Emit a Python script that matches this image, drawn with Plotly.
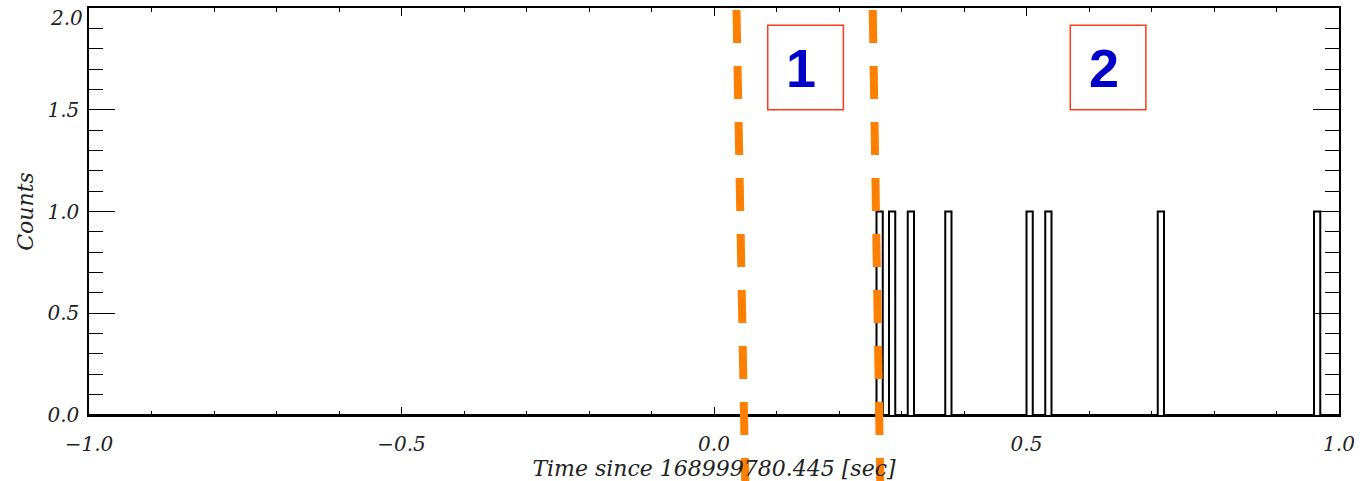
import plotly.graph_objects as go

# Histogram of photon arrival times (bin width 0.01 s)
bin_width = 0.01
bin_left = [0.26, 0.28, 0.31, 0.37, 0.50, 0.53, 0.71, 0.96]
bin_counts = [1, 1, 1, 1, 1, 1, 1, 1]

x_range = [-1.0, 1.0]
y_range = [0.0, 2.0]
x_ticks = [-1.0, -0.5, 0.0, 0.5, 1.0]
y_ticks = [0.0, 0.5, 1.0, 1.5, 2.0]

# Interval boundaries (slightly slanted dashed markers: top x, bottom x)
boundary_top = [0.036, 0.254]
boundary_bottom = [0.050, 0.266]

# Interval labels and their boxes (x0, x1, y0, y1)
interval_labels = ["1", "2"]
interval_boxes = [(0.086, 0.207, 1.50, 1.915), (0.570, 0.691, 1.50, 1.915)]

# Build the step outline of the histogram
xs, ys = [x_range[0]], [0]
for left, c in zip(bin_left, bin_counts):
    xs += [left, left, left + bin_width, left + bin_width]
    ys += [0, c, c, 0]
xs.append(x_range[1])
ys.append(0)

fig = go.Figure()
fig.add_trace(go.Scatter(x=xs, y=ys, mode="lines",
                         line=dict(color="black", width=2),
                         hoverinfo="skip", showlegend=False))

tick_font = dict(family="DejaVu Serif", size=20, color="#222222", style="italic")
title_font = dict(family="DejaVu Serif", size=22, color="#222222", style="italic")

# The label of the top y tick is placed just below the frame so it stays in view
y_ticktext = [f"{v:.1f}" for v in y_ticks]
top_label = y_ticktext[-1]
y_ticktext[-1] = ""

fig.update_xaxes(range=x_range, showgrid=False, zeroline=False, automargin=False,
                 showline=True, linecolor="black", linewidth=2, mirror="ticks",
                 ticks="inside", ticklen=8, tickwidth=1, tickcolor="black",
                 tickmode="array", tickvals=x_ticks, ticktext=[f"{v:.1f}".replace("-", "\u2212") for v in x_ticks],
                 tickfont=tick_font, ticklabelstandoff=10, ticklabeloverflow="allow",
                 minor=dict(ticks="inside", ticklen=4, dtick=0.1, tick0=-1,
                            tickcolor="black", tickwidth=1, showgrid=False),
                 title=dict(text="Time since 168999780.445 [sec]", font=title_font, standoff=0))
fig.update_yaxes(range=y_range, showgrid=False, zeroline=False, automargin=False,
                 showline=True, linecolor="black", linewidth=1.5, mirror="ticks",
                 ticks="inside", ticklen=26, tickwidth=1, tickcolor="black",
                 tickmode="array", tickvals=y_ticks, ticktext=y_ticktext,
                 tickfont=tick_font, ticklabelstandoff=4, ticklabeloverflow="allow",
                 minor=dict(ticks="inside", ticklen=14, dtick=0.1, tick0=0,
                            tickcolor="black", tickwidth=1, showgrid=False),
                 title=dict(text="Counts", font=title_font, standoff=8))

fig.add_annotation(x=0, xref="paper", y=y_ticks[-1], yref="y", text=top_label,
                   showarrow=False, xanchor="right", yanchor="top",
                   xshift=-4, yshift=4, font=tick_font)

for xt, xb in zip(boundary_top, boundary_bottom):
    fig.add_shape(type="line", xref="x", yref="paper",
                  x0=xt, y0=0.995, x1=xb, y1=-0.165,
                  line=dict(color="#ff8000", width=8, dash="33px,23px"))

for label, (bx0, bx1, by0, by1) in zip(interval_labels, interval_boxes):
    fig.add_shape(type="rect", xref="x", yref="y", x0=bx0, x1=bx1, y0=by0, y1=by1,
                  line=dict(color="#ff3a1a", width=1.5), fillcolor="white")
    fig.add_annotation(x=(bx0 + bx1) / 2 - 0.007, y=(by0 + by1) / 2, xref="x", yref="y",
                       text=f"<b>{label}</b>", showarrow=False,
                       font=dict(family="Liberation Sans", size=54, color="#0000c8"))

fig.update_layout(width=1362, height=481, margin=dict(l=89, r=23, t=8, b=66),
                  paper_bgcolor="white", plot_bgcolor="white")

fig.write_html("out.html")
